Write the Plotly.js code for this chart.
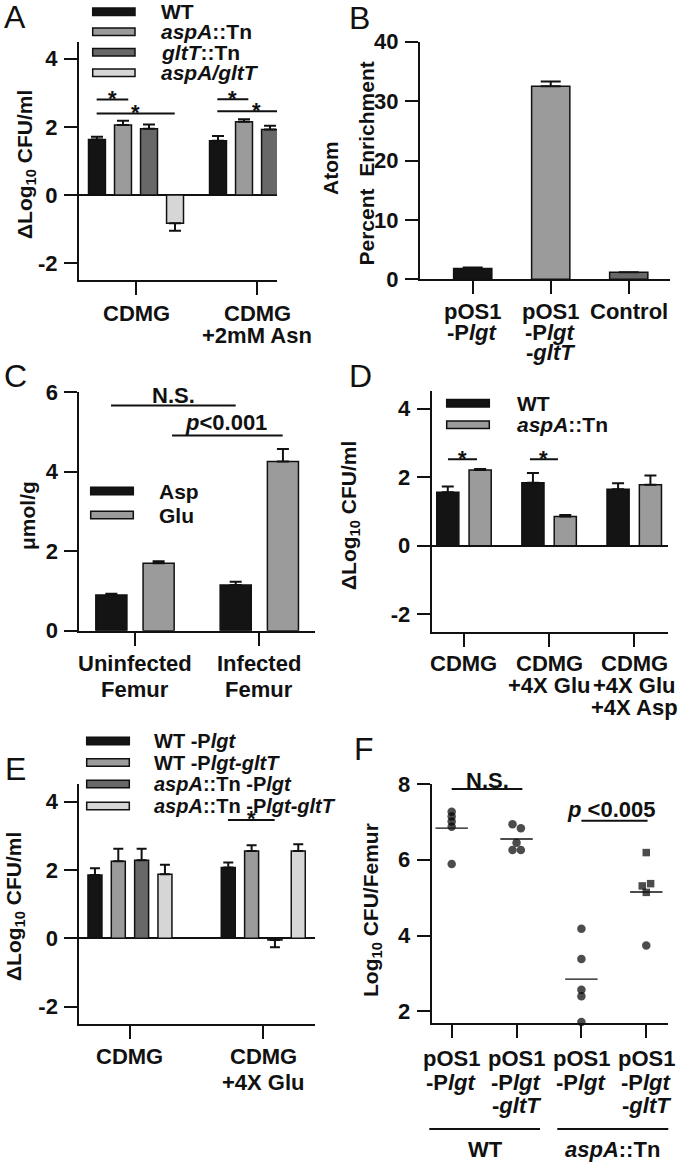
<!DOCTYPE html>
<html><head><meta charset="utf-8">
<script src="https://cdn.plot.ly/plotly-3.0.1.min.js"></script>
<style>html,body{margin:0;padding:0;background:#fff}#fig{width:678px;height:1165px}</style>
</head><body><div id="fig"></div>
<script>
// ---------------- DATA ----------------
// Panel A
const A_cats = ['CDMG', 'CDMG<br>+2mM Asn'];
const A_names = ['WT', '<i>aspA</i>::Tn', '<i>gltT</i>::Tn', '<i>aspA/gltT</i>'];
const A_WT = [1.63, 1.59];          const A_WT_sem = [0.08, 0.14];
const A_aspA = [2.05, 2.15];        const A_aspA_sem = [0.13, 0.07];
const A_gltT = [1.94, 1.92];        const A_gltT_sem = [0.13, 0.11];
const A_aspAgltT = [-0.83, 2.03];   const A_aspAgltT_sem = [0.22, 0.15];
// Panel B
const B_cats = ['pOS1<br>-P<i>lgt</i>', 'pOS1<br>-P<i>lgt</i><br>-<i>gltT</i>', 'Control'];
const B_vals = [1.8, 32.5, 1.2];
const B_sem = [0.2, 0.8, null];
// Panel C
const C_cats = ['Uninfected<br>Femur', 'Infected<br>Femur'];
const C_names = ['Asp', 'Glu'];
const C_Asp = [0.9, 1.15];   const C_Asp_sem = [0.03, 0.08];
const C_Glu = [1.70, 4.26];  const C_Glu_sem = [0.05, 0.31];
// Panel D
const D_cats = ['CDMG', 'CDMG<br>+4X Glu', 'CDMG<br>+4X Glu<br>+4X Asp'];
const D_names = ['WT', '<i>aspA</i>::Tn'];
const D_WT = [1.56, 1.84, 1.65];   const D_WT_sem = [0.17, 0.28, 0.17];
const D_aspA = [2.21, 0.85, 1.78]; const D_aspA_sem = [0.03, 0.05, 0.27];
// Panel E
const E_cats = ['CDMG', 'CDMG<br>+4X Glu'];
const E_names = ['WT -P<i>lgt</i>', 'WT -P<i>lgt-gltT</i>', '<i>aspA</i>::Tn -P<i>lgt</i>', '<i>aspA</i>::Tn -P<i>lgt-gltT</i>'];
const E_WT_Plgt = [1.85, 2.07];        const E_WT_Plgt_sem = [0.20, 0.15];
const E_WT_PlgtgltT = [2.25, 2.55];    const E_WT_PlgtgltT_sem = [0.37, 0.17];
const E_aspA_Plgt = [2.28, -0.05];     const E_aspA_Plgt_sem = [0.34, 0.21];
const E_aspA_PlgtgltT = [1.87, 2.55];  const E_aspA_PlgtgltT_sem = [0.28, 0.20];
// Panel F
const F_cats = ['pOS1<br>-P<i>lgt</i>', 'pOS1<br>-P<i>lgt</i><br>-<i>gltT</i>', 'pOS1<br>-P<i>lgt</i>', 'pOS1<br>-P<i>lgt</i><br>-<i>gltT</i>'];
const F_strains = ['WT', '<i>aspA</i>::Tn'];
const F_WT_Plgt = [7.27, 7.14, 7.01, 6.87, 5.89];
const F_WT_PlgtgltT = [6.94, 6.83, 6.45, 6.26, 6.26];
const F_aspA_Plgt = [4.18, 3.38, 2.57, 2.40, 1.72];
const F_aspA_PlgtgltT = [6.19, 5.37, 5.31, 5.14, 3.74];
const F_jitter = [[0,0,0,0,0],[-0.062,0.067,0,-0.062,0.067],[0,0,0,0,0],[0,0.067,-0.062,0,0]];
const F_symbols = [['circle','circle','circle','circle','circle'],['circle','circle','circle','circle','circle'],['circle','circle','circle','circle','circle'],['square','square','square','square','circle']];

// ---------------- HELPERS ----------------
const W = 678, H = 1165;
const px = x => x / W, py = y => 1 - y / H;
const FONT = 'Liberation Sans, Arial, Helvetica, sans-serif';
const INK = '#111111';
const COL = {black:'#141414', mid:'#9b9b9b', dark:'#686868', light:'#d6d6d6'};

const layout = {width: W, height: H, margin:{l:0,r:0,t:0,b:0}, paper_bgcolor:'#fff', plot_bgcolor:'rgba(0,0,0,0)',
  showlegend:false, barmode:'overlay', shapes:[], annotations:[], font:{family:FONT, color:INK}};
const traces = [];

function setAxes(n, xr, yr, xRange, yRange, xType, yTicks, zeroline, xTickvals){
  const xs = n === 1 ? '' : n, ax = 'xaxis' + xs, ay = 'yaxis' + xs;
  layout[ax] = {domain:[px(xr[0]), px(xr[1])], range:xRange, type:xType, anchor:'y'+xs,
    showline:true, linecolor:INK, linewidth:2, ticks:'outside', ticklen:13, tickwidth:2, tickcolor:INK,
    showticklabels:false, showgrid:false, zeroline:false, fixedrange:true};
  if (xTickvals) { layout[ax].tickmode = 'array'; layout[ax].tickvals = xTickvals; }
  layout[ay] = {domain:[py(yr[1]), py(yr[0])], range:yRange, anchor:'x'+xs,
    showline:true, linecolor:INK, linewidth:2, ticks:'outside', ticklen:13, tickwidth:2, tickcolor:INK,
    tickmode:'array', tickvals:yTicks, ticktext:yTicks.map(String), ticklabelstandoff:2,
    tickfont:{family:FONT, size:22, weight:'bold', color:INK},
    showgrid:false, zeroline:!!zeroline, zerolinecolor:INK, zerolinewidth:2, fixedrange:true};
}

function bars(n, cats, vals, sems, colors, slot, w, errW){
  const xs = n === 1 ? '' : n, N = vals.length;
  vals.forEach((v, i) => {
    traces.push({type:'bar', x:cats, y:v, xaxis:'x'+xs, yaxis:'y'+xs,
      offset: -N*slot/2 + i*slot + (slot-w)/2, width:w,
      marker:{color:colors[i], line:{color:INK, width:1.5}},
      error_y:{type:'data', symmetric:false,
        array: v.map((y,k) => sems[i][k] == null ? null : (y >= 0 ? sems[i][k] : 0)),
        arrayminus: v.map((y,k) => sems[i][k] == null ? null : (y < 0 ? sems[i][k] : 0)),
        color:INK, thickness:2, width:errW},
      hoverinfo:'skip', cliponaxis:false});
  });
}

function text(x, y, t, opt){
  layout.annotations.push(Object.assign({xref:'paper', yref:'paper', x:px(x), y:py(y), text:t, showarrow:false,
    xanchor:'center', yanchor:'middle', font:{family:FONT, size:22, weight:'bold', color:INK}}, opt || {}));
}

function xLabels(n, cats, linesY, size){
  const xs = n === 1 ? '' : n;
  cats.forEach((c, i) => c.split('<br>').forEach((t, j) => {
    layout.annotations.push({xref:'x'+xs, yref:'paper', x:i, y:py(linesY[j]), text:t, showarrow:false,
      xanchor:'center', yanchor:'middle', font:{family:FONT, size:size||22, weight:'bold', color:INK}});
  }));
}

function legendBox(x0, x1, yc, h, color, label, tx, size){
  layout.shapes.push({type:'rect', xref:'paper', yref:'paper', x0:px(x0), x1:px(x1), y0:py(yc+h/2), y1:py(yc-h/2),
    fillcolor:color, line:{color:INK, width:1.5}});
  text(tx, yc, label, {xanchor:'left', font:{family:FONT, size:size||21, weight:'bold', color:INK}});
}

function sigLine(n, x0, x1, y){
  const xs = n === 1 ? '' : n;
  layout.shapes.push({type:'line', xref:'x'+xs, yref:'y'+xs, x0:x0, x1:x1, y0:y, y1:y, line:{color:INK, width:2}});
}
function sigText(n, x, y, t, size, weight, yshift){
  const xs = n === 1 ? '' : n;
  layout.annotations.push({xref:'x'+xs, yref:'y'+xs, x:x, y:y, text:t, showarrow:false, xanchor:'center', yanchor:'middle',
    yshift: yshift || 0, font:{family:FONT, size:size||22, weight:weight||'bold', color:INK}});
}
function star(n, x0, x1, y){ sigLine(n, x0, x1, y); sigText(n, (x0+x1)/2, y, '*', 22, 'bold', 1); }

function yTitle(x, y, t, size){ text(x, y, t, {textangle:-90, font:{family:FONT, size:size||21, weight:'bold', color:INK}}); }
function letter(x, y, t){ text(x, y, t, {xanchor:'left', font:{family:FONT, size:32, weight:'normal', color:INK}}); }

// ---------------- PANEL A ----------------
setAxes(1, [79, 277], [41.7, 280], [-0.471, 1.165], [-2.5, 4.5], 'category', [-2, 0, 2, 4], true);
bars(1, A_cats, [A_WT, A_aspA, A_gltT, A_aspAgltT], [A_WT_sem, A_aspA_sem, A_gltT_sem, A_aspAgltT_sem],
  [COL.black, COL.mid, COL.dark, COL.light], 0.215, 0.14, 6);
xLabels(1, A_cats, [313, 335]);
[11.7, 31.7, 52.3, 72.7].forEach((yc, i) => legendBox(92.7, 135, yc, 7.5, [COL.black, COL.mid, COL.dark, COL.light][i], A_names[i], 159));
star(1, -0.325, -0.064, 2.80); star(1, -0.325, 0.32, 2.39);
star(1, 0.672, 0.928, 2.81); star(1, 0.672, 1.322, 2.46);
yTitle(26, 165, '\u0394Log<sub>10</sub> CFU/ml');
letter(1.5, 17, 'A');

// ---------------- PANEL B ----------------
setAxes(2, [420, 670], [41.7, 279.3], [-0.676, 2.529], [0, 40], 'category', [0, 10, 20, 30, 40], false);
traces.push({type:'bar', x:B_cats, y:B_vals, xaxis:'x2', yaxis:'y2', offset:-0.245, width:0.49,
  marker:{color:[COL.black, COL.mid, COL.dark], line:{color:INK, width:1.5}},
  error_y:{type:'data', symmetric:false, array:B_sem, arrayminus:B_sem.map(s => s == null ? null : 0), color:INK, thickness:2, width:10},
  hoverinfo:'skip'});
xLabels(2, B_cats, [312, 332.5, 352.5]);
yTitle(331, 168, 'Atom');
yTitle(366, 163.5, 'Percent\u00a0 Enrichment');
letter(347, 18, 'B');

// ---------------- PANEL C ----------------
setAxes(3, [79.3, 315], [392.3, 630.7], [-0.448, 1.448], [0, 6], 'category', [0, 2, 4, 6], false);
bars(3, C_cats, [C_Asp, C_Glu], [C_Asp_sem, C_Glu_sem], [COL.black, COL.mid], 0.38, 0.25, 6);
xLabels(3, C_cats, [663.5, 689.5]);
legendBox(90.7, 133.3, 491, 7.5, COL.black, C_names[0], 157);
legendBox(90.7, 133.3, 515, 7.5, COL.mid, C_names[1], 157);
sigLine(3, -0.193, 0.81, 5.67); sigText(3, 0.3085, 5.92, 'N.S.');
sigLine(3, 0.298, 1.188, 4.91); sigText(3, 0.732, 5.23, '<i>p</i>&lt;0.001');
yTitle(27, 516, '\u03bcmol/g');
letter(1.5, 376, 'C');

// ---------------- PANEL D ----------------
setAxes(4, [431.7, 668.3], [391.4, 631.5], [-0.379, 2.40], [-2.5, 4.5], 'category', [-2, 0, 2, 4], true);
bars(4, D_cats, [D_WT, D_aspA], [D_WT_sem, D_aspA_sem], [COL.black, COL.mid], 0.38, 0.26, 6);
xLabels(4, D_cats, [663.5, 685.5, 707.5]);
legendBox(446.7, 489.3, 403.3, 7.5, COL.black, D_names[0], 515);
legendBox(446.7, 489.3, 424.7, 7.5, COL.mid, D_names[1], 515);
star(4, -0.188, 0.153, 2.52); star(4, 0.775, 1.104, 2.52);
yTitle(350, 515, '\u0394Log<sub>10</sub> CFU/ml');
letter(347, 376, 'D');

// ---------------- PANEL E ----------------
setAxes(5, [79.3, 315], [784.4, 1023.8], [-0.38, 1.388], [-2.5, 4.5], 'category', [-2, 0, 2, 4], true);
bars(5, E_cats, [E_WT_Plgt, E_WT_PlgtgltT, E_aspA_Plgt, E_aspA_PlgtgltT],
  [E_WT_Plgt_sem, E_WT_PlgtgltT_sem, E_aspA_Plgt_sem, E_aspA_PlgtgltT_sem],
  [COL.black, COL.mid, COL.dark, COL.light], 0.175, 0.105, 5);
xLabels(5, E_cats, [1056, 1082]);
[741, 762.5, 784, 806].forEach((yc, i) => legendBox(86.7, 129.3, yc, 7.5, [COL.black, COL.mid, COL.dark, COL.light][i], E_names[i], 151.7, 20));
star(5, 0.735, 1.0856, 3.46);
yTitle(15, 907, '\u0394Log<sub>10</sub> CFU/ml');
letter(2.5, 769, 'E');

// ---------------- PANEL F ----------------
setAxes(6, [431.7, 668], [784, 1022.7], [-0.308, 3.335], [1.7, 8], 'linear', [2, 4, 6, 8], false, [0, 1, 2, 3]);
[F_WT_Plgt, F_WT_PlgtgltT, F_aspA_Plgt, F_aspA_PlgtgltT].forEach((vals, g) => {
  traces.push({type:'scatter', mode:'markers', x:vals.map((v, k) => g + F_jitter[g][k]), y:vals, xaxis:'x6', yaxis:'y6',
    marker:{color:'#000', size:vals.map((v,k) => F_symbols[g][k] === 'square' ? 7.5 : 8.5), symbol:F_symbols[g], line:{width:0}},
    cliponaxis:false, hoverinfo:'skip'});
  const mean = vals.reduce((a, b) => a + b, 0) / vals.length;
  traces.push({type:'scatter', mode:'lines', x:[g - 0.25, g + 0.25], y:[mean, mean], xaxis:'x6', yaxis:'y6',
    line:{color:INK, width:1.3}, hoverinfo:'skip'});
});
xLabels(6, F_cats, [1058, 1082, 1105.5]);
layout.shapes.push({type:'line', xref:'paper', yref:'paper', x0:px(429.3), x1:px(540), y0:py(1129), y1:py(1129), line:{color:INK, width:2}});
layout.shapes.push({type:'line', xref:'paper', yref:'paper', x0:px(557.3), x1:px(668.3), y0:py(1129), y1:py(1129), line:{color:INK, width:2}});
text(485, 1149, F_strains[0]);
text(612.5, 1149, F_strains[1]);
sigLine(6, 0, 1.09, 7.87);
text(487, 780.5, 'N.S.');
sigLine(6, 2.0, 3.02, 7.03); sigText(6, 2.458, 7.33, '<i>p</i> &lt;0.005');
yTitle(372, 910, 'Log<sub>10</sub> CFU/Femur');
letter(352, 749, 'F');

Plotly.newPlot('fig', traces, layout, {staticPlot:true, displayModeBar:false});
</script>
</body></html>
